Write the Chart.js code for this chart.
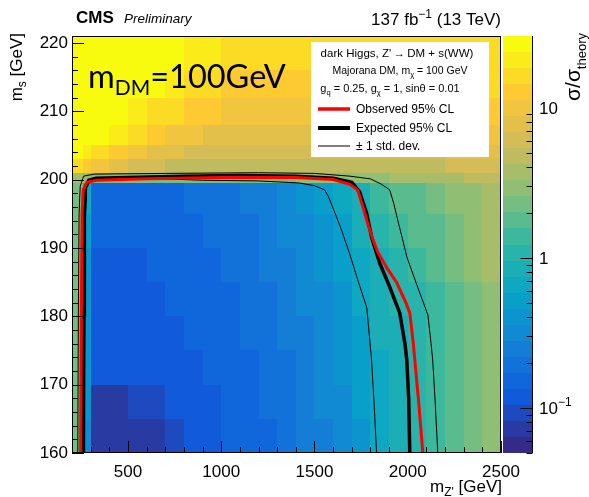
<!DOCTYPE html>
<html>
<head>
<meta charset="utf-8">
<script src="https://cdn.jsdelivr.net/npm/chart.js@4.4.0/dist/chart.umd.min.js"></script>
<style>
  html, body { margin: 0; padding: 0; background: #fff; }
  #wrap { width: 589px; height: 497px; }
</style>
</head>
<body>
<div id="wrap"><canvas id="limitChart" width="589" height="497"></canvas></div>
<script>
// m_Z' bin edges (GeV) and m_s bin edges (GeV) of the sigma/sigma_theory map
const mzpEdges = [200, 260, 300, 400, 500, 600, 700, 800, 900, 1000, 1100, 1200, 1300, 1400, 1500, 1600, 1700, 1800, 1900, 2000, 2100, 2200, 2300, 2400, 2500];
const msEdges = [160, 165, 170, 175, 180, 185, 190, 195, 199.5, 201, 203, 205, 208, 212, 216, 221];

// observed sigma/sigma_theory, one row per m_s bin (lowest first)
const sigmaRatio = [
  [2.2, 0.35, 0.068, 0.065, 0.068, 0.08, 0.1, 0.115, 0.125, 0.135, 0.15, 0.17, 0.19, 0.22, 0.27, 0.33, 0.45, 0.62, 0.82, 1.0, 1.3, 1.7, 2.2, 2.9],
  [2.2, 0.36, 0.072, 0.07, 0.085, 0.1, 0.115, 0.12, 0.13, 0.14, 0.155, 0.175, 0.2, 0.23, 0.28, 0.35, 0.47, 0.64, 0.84, 1.0, 1.3, 1.7, 2.2, 2.9],
  [2.2, 0.38, 0.11, 0.11, 0.115, 0.12, 0.125, 0.13, 0.14, 0.15, 0.165, 0.185, 0.21, 0.24, 0.3, 0.38, 0.5, 0.68, 0.88, 1.05, 1.35, 1.75, 2.3, 3.0],
  [2.2, 0.4, 0.12, 0.12, 0.12, 0.125, 0.13, 0.14, 0.15, 0.16, 0.175, 0.195, 0.22, 0.26, 0.32, 0.41, 0.55, 0.75, 0.95, 1.1, 1.4, 1.8, 2.4, 3.1],
  [2.3, 0.42, 0.125, 0.125, 0.125, 0.13, 0.14, 0.15, 0.16, 0.17, 0.185, 0.21, 0.24, 0.28, 0.35, 0.45, 0.62, 0.85, 1.0, 1.2, 1.5, 1.9, 2.5, 3.2],
  [2.3, 0.45, 0.13, 0.13, 0.13, 0.135, 0.145, 0.155, 0.17, 0.18, 0.2, 0.225, 0.26, 0.31, 0.39, 0.5, 0.7, 0.95, 1.15, 1.35, 1.65, 2.1, 2.7, 3.4],
  [2.4, 0.5, 0.135, 0.135, 0.135, 0.14, 0.15, 0.165, 0.18, 0.195, 0.215, 0.245, 0.28, 0.34, 0.43, 0.57, 0.8, 1.1, 1.35, 1.6, 1.9, 2.3, 2.9, 3.6],
  [2.5, 0.6, 0.14, 0.14, 0.145, 0.15, 0.16, 0.175, 0.195, 0.21, 0.235, 0.27, 0.31, 0.37, 0.48, 0.65, 0.9, 1.3, 1.6, 1.9, 2.2, 2.6, 3.2, 3.8],
  [4, 3, 2.5, 2.3, 2.2, 2.2, 2.2, 2.2, 2.2, 2.3, 2.3, 2.4, 2.5, 2.6, 2.7, 2.8, 3.0, 3.2, 3.4, 3.6, 3.8, 4.0, 4.3, 4.6],
  [18, 12, 9, 7, 6, 5.5, 5, 4.8, 4.6, 4.5, 4.5, 4.5, 4.5, 4.5, 4.5, 4.5, 4.6, 4.7, 4.8, 5, 5.2, 5.5, 5.8, 6.2],
  [25, 22, 17, 13, 10, 8, 7, 6.5, 6, 6, 6, 6, 6, 6, 6, 6, 6, 6.2, 6.4, 6.6, 6.8, 7, 7.3, 7.6],
  [28, 27, 25, 22, 16, 13, 11, 9.5, 8.5, 8, 8, 8, 8, 8, 8, 8, 8, 8.2, 8.4, 8.6, 8.8, 9, 9.3, 9.6],
  [29, 28, 27, 26, 23, 18, 15, 13, 12, 11, 11, 11, 11, 11, 11, 11, 11, 11, 11, 11.5, 11.5, 12, 12, 12.5],
  [30, 29, 28, 27, 26, 24, 20, 17, 15, 14, 14, 14, 14, 14, 14, 14, 14, 14, 14, 14, 14, 14.5, 15, 15],
  [30, 30, 29, 29, 28, 27, 25, 22, 19, 17, 16, 16, 16, 16, 16, 16, 16, 16, 16, 16, 16, 16, 16.5, 17]
];

// 95% CL contours as [m_Z', m_s] points
const observedCL = [[246,160],[250,180],[254,195],[260,198.5],[280,199.6],[330,199.9],[600,200.1],[1000,200.3],[1400,200.3],[1600,200.0],[1690,199.3],[1731,198.5],[1760,196],[1785,193.6],[1810,191.5],[1839,189.4],[1890,187],[1941,184.9],[1990,182],[2011,180.5],[2030,176],[2038,173.6],[2060,167],[2081,160]];
const expectedCL = [[258,160],[262,180],[266,195],[272,198.8],[290,199.9],[330,200.2],[500,200.3],[800,200.5],[1100,200.6],[1400,200.5],[1600,200.2],[1700,199.6],[1742,198.2],[1780,195],[1806,191.6],[1849,187.8],[1900,184.5],[1957,180.5],[1985,176],[1995,173.6],[2005,168],[2011,160]];
const expectedUp = [[231,160],[234,180],[238,195],[244,199],[262,200.5],[320,200.8],[700,200.9],[1200,201.0],[1500,200.9],[1688,200.5],[1800,200.1],[1860,199.3],[1903,198.5],[1925,196.5],[1946,194.1],[1970,191.5],[1995,188.7],[2050,184.5],[2108,180.2],[2125,176],[2134,173.6],[2148,167],[2161,160]];
const expectedDown = [[268,160],[270,180],[273,195],[278,198.8],[295,199.6],[350,200.0],[600,200.2],[900,199.9],[1200,199.8],[1419,199.5],[1500,199.1],[1554,198.5],[1575,197.5],[1597,196],[1640,193],[1688,189.2],[1730,185.5],[1780,181.3],[1795,177],[1806,173.6],[1820,167],[1833,160]];

// axis labels
const mzpTicks = [500, 1000, 1500, 2000, 2500];
const msTicks = [160, 170, 180, 190, 200, 210, 220];
const zTicks = [0.1, 1, 10];
const zRange = [0.05, 30];

// ROOT "bird" palette
const birdStops = [0, 0.125, 0.25, 0.375, 0.5, 0.625, 0.75, 0.875, 1];
const birdR = [0.2082, 0.0592, 0.0780, 0.0232, 0.1802, 0.5301, 0.8186, 0.9956, 0.9764];
const birdG = [0.1664, 0.3599, 0.5041, 0.6419, 0.7178, 0.7492, 0.7328, 0.7862, 0.9832];
const birdB = [0.5293, 0.8684, 0.8385, 0.7914, 0.6425, 0.4662, 0.3499, 0.1968, 0.0539];
const nBands = 26;

function birdAt(t) {
  let i = 0;
  while (i < birdStops.length - 2 && t > birdStops[i + 1]) i++;
  const f = (t - birdStops[i]) / (birdStops[i + 1] - birdStops[i]);
  const c = arr => Math.round(255 * (arr[i] + f * (arr[i + 1] - arr[i])));
  return 'rgb(' + c(birdR) + ',' + c(birdG) + ',' + c(birdB) + ')';
}

function bandOf(v) {
  const lo = Math.log(zRange[0]), hi = Math.log(zRange[1]);
  let t = (Math.log(v) - lo) / (hi - lo);
  t = Math.min(Math.max(t, 0), 0.9999);
  return Math.floor(t * nBands);
}

function colorFor(v) {
  return birdAt(bandOf(v) / (nBands - 1));
}

// text with sub/superscripts: parts = [[text, font, dy], ...]
function richWidth(ctx, parts) {
  let w = 0;
  parts.forEach(p => { ctx.font = p[1]; w += ctx.measureText(p[0]).width; });
  return w;
}
function drawRich(ctx, parts, x, y, align) {
  let w = richWidth(ctx, parts);
  let cx = align === 'right' ? x - w : align === 'center' ? x - w / 2 : x;
  ctx.textAlign = 'left';
  ctx.textBaseline = 'alphabetic';
  parts.forEach(p => {
    ctx.font = p[1];
    ctx.fillText(p[0], cx, y + (p[2] || 0));
    cx += ctx.measureText(p[0]).width;
  });
}

const heatMap = {
  id: 'heatMap',
  beforeDatasetsDraw(chart) {
    const ctx = chart.ctx, xs = chart.scales.x, ys = chart.scales.y, zs = chart.scales.z;
    const area = chart.chartArea;
    ctx.save();
    ctx.beginPath();
    ctx.rect(area.left, area.top, area.right - area.left, area.bottom - area.top);
    ctx.clip();
    for (let r = 0; r < sigmaRatio.length; r++) {
      const y0 = Math.round(ys.getPixelForValue(msEdges[r + 1]));
      const y1 = Math.round(ys.getPixelForValue(msEdges[r]));
      for (let c = 0; c < sigmaRatio[r].length; c++) {
        const x0 = Math.round(xs.getPixelForValue(mzpEdges[c]));
        const x1 = Math.round(xs.getPixelForValue(mzpEdges[c + 1]));
        ctx.fillStyle = colorFor(sigmaRatio[r][c]);
        ctx.fillRect(x0, y0, x1 - x0, y1 - y0);
      }
    }
    ctx.restore();

    // colour bar
    const bl = zs.left + 2, br = zs.left + 31;
    const lo = Math.log(zRange[0]), hi = Math.log(zRange[1]);
    for (let b = 0; b < nBands; b++) {
      const v0 = Math.exp(lo + (hi - lo) * b / nBands);
      const v1 = Math.exp(lo + (hi - lo) * (b + 1) / nBands);
      const y0 = Math.round(zs.getPixelForValue(v1));
      const y1 = Math.round(zs.getPixelForValue(v0));
      ctx.fillStyle = birdAt(b / (nBands - 1));
      ctx.fillRect(bl, y0, br - bl, y1 - y0);
    }
  },
  afterDatasetsDraw(chart) {
    const ctx = chart.ctx, xs = chart.scales.x, ys = chart.scales.y, zs = chart.scales.z;
    const a = chart.chartArea;
    ctx.save();
    ctx.strokeStyle = '#000';
    ctx.lineWidth = 1;
    ctx.strokeRect(a.left + 0.5, a.top + 0.5, a.right - a.left - 1, a.bottom - a.top - 1);
    ctx.beginPath();
    // x ticks, inward
    for (let v = 200; v <= 2500; v += 100) {
      const px = Math.round(xs.getPixelForValue(v)) + 0.5;
      const len = v % 500 === 0 ? 12 : 6;
      ctx.moveTo(px, a.bottom);
      ctx.lineTo(px, a.bottom - len);
    }
    // y ticks, inward
    for (let v = 160; v <= 221; v += 2) {
      const py = Math.round(ys.getPixelForValue(v)) + 0.5;
      const len = v % 10 === 0 ? 12 : 6;
      ctx.moveTo(a.left, py);
      ctx.lineTo(a.left + len, py);
    }
    // colour bar axis
    const bx = zs.left + 31.5;
    ctx.moveTo(bx, a.top);
    ctx.lineTo(bx, a.bottom);
    [1, 10, 100].forEach(dec => {
      for (let m = 1; m < 10; m++) {
        const v = m * dec / 100;
        if (v < zRange[0] || v > zRange[1]) continue;
        const py = Math.round(zs.getPixelForValue(v)) + 0.5;
        const len = m === 1 ? 12 : 6;
        ctx.moveTo(bx, py);
        ctx.lineTo(bx - len, py);
      }
    });
    ctx.stroke();
    ctx.restore();
  },
  afterDraw(chart) {
    const ctx = chart.ctx, zs = chart.scales.z;
    ctx.save();
    ctx.fillStyle = '#000';
    const lab = '17px "Liberation Sans", Arial, sans-serif';
    const sub = '12px "Liberation Sans", Arial, sans-serif';

    // colour bar labels
    zTicks.forEach(v => {
      const py = zs.getPixelForValue(v) + 6;
      if (v < 1) drawRich(ctx, [['10', lab, 0], ['\u22121', sub, -8]], 539, py, 'left');
      else drawRich(ctx, [[String(v), lab, 0]], 539, py, 'left');
    });

    // header
    drawRich(ctx, [['CMS', 'bold 17px "Liberation Sans", Arial, sans-serif', 0]], 76, 23, 'left');
    drawRich(ctx, [['Preliminary', 'italic 13.5px "Liberation Sans", Arial, sans-serif', 0]], 124, 23, 'left');
    drawRich(ctx, [['137 fb', lab, 0], ['\u22121', sub, -7], [' (13 TeV)', lab, 0]], 501, 25, 'right');

    // x title
    drawRich(ctx, [['m', lab, 0], ["Z'", sub, 4], [' [GeV]', lab, 0]], 502, 492, 'right');

    // y title, rotated
    ctx.save();
    ctx.translate(22, 33);
    ctx.rotate(-Math.PI / 2);
    drawRich(ctx, [['m', lab, 0], ['s', sub, 4], [' [GeV]', lab, 0]], 0, 0, 'right');
    ctx.restore();

    // colour bar title
    ctx.save();
    ctx.translate(580, 33);
    ctx.rotate(-Math.PI / 2);
    drawRich(ctx, [['\u03c3/\u03c3', '21px "Liberation Sans", Arial, sans-serif', 0], ['theory', '13px "Liberation Sans", Arial, sans-serif', 6]], 0, 0, 'right');
    ctx.restore();

    // dark matter mass label
    drawRich(ctx, [['m', '32.5px Lato, "Open Sans", sans-serif', 0], ['DM', '21px Lato, "Open Sans", sans-serif', 7], ['=100GeV', '32.5px Lato, "Open Sans", sans-serif', 0]], 88, 88, 'left');

    // legend box
    ctx.fillStyle = '#fff';
    ctx.fillRect(311, 42, 178, 115);
    ctx.fillStyle = '#000';
    const f11 = '11px "Liberation Sans", Arial, sans-serif';
    const f8 = '7.5px "Liberation Sans", Arial, sans-serif';
    drawRich(ctx, [["dark Higgs, Z'\u2009\u2192\u2009DM + s(WW)", '11.5px "Liberation Sans", Arial, sans-serif', 0]], 397, 57, 'center');
    drawRich(ctx, [['Majorana DM, m', '10.5px "Liberation Sans", Arial, sans-serif', 0], ['\u03c7', f8, 3], [' = 100 GeV', '10.5px "Liberation Sans", Arial, sans-serif', 0]], 400, 74, 'center');
    drawRich(ctx, [['g', f11, 0], ['q', f8, 3], [' = 0.25, g', f11, 0], ['\u03c7', f8, 3], [' = 1, sin\u03b8 = 0.01', f11, 0]], 390, 92, 'center');

    const entries = [['Observed 95% CL', '#ff0000', 3.5, 113], ['Expected 95% CL', '#000', 4, 132], ['\u00b1 1 std. dev.', '#000', 1, 150]];
    entries.forEach(e => {
      ctx.strokeStyle = e[1];
      ctx.lineWidth = e[2];
      ctx.beginPath();
      ctx.moveTo(318, e[3] - 4);
      ctx.lineTo(350, e[3] - 4);
      ctx.stroke();
      drawRich(ctx, [[e[0], '12px "Liberation Sans", Arial, sans-serif', 0]], 356, e[3], 'left');
    });
    ctx.restore();
  }
};

function contourSet(points, color, width) {
  return {
    data: points.map(p => ({ x: p[0], y: p[1] })),
    showLine: true,
    borderColor: color,
    borderWidth: width,
    pointRadius: 0,
    tension: 0,
    fill: false
  };
}

const tickFont = { family: '"Liberation Sans", Arial, sans-serif', size: 17 };

new Chart(document.getElementById('limitChart'), {
  type: 'scatter',
  data: {
    datasets: [
      contourSet(observedCL, '#ff0000', 3),
      contourSet(expectedCL, '#000000', 3.5),
      contourSet(expectedUp, '#000000', 1),
      contourSet(expectedDown, '#000000', 1)
    ]
  },
  options: {
    responsive: false,
    animation: false,
    devicePixelRatio: 1,
    layout: { padding: { top: 36, right: 0, left: 0, bottom: 0 } },
    plugins: { legend: { display: false }, tooltip: { enabled: false } },
    scales: {
      x: {
        type: 'linear', min: 200, max: 2500,
        grid: { display: false, drawTicks: false },
        border: { display: false },
        ticks: { font: tickFont, color: '#000', padding: 9, maxRotation: 0, callback: v => String(v) },
        afterBuildTicks: s => { s.ticks = mzpTicks.map(v => ({ value: v })); },
        afterFit: s => { s.height = 44; }
      },
      y: {
        type: 'linear', min: 160, max: 221,
        grid: { display: false, drawTicks: false },
        border: { display: false },
        ticks: { font: tickFont, color: '#000', padding: 4, callback: v => String(v) },
        afterBuildTicks: s => { s.ticks = msTicks.map(v => ({ value: v })); },
        afterFit: s => { s.width = 72; }
      },
      z: {
        type: 'logarithmic', position: 'right', min: zRange[0], max: zRange[1],
        grid: { display: false, drawTicks: false },
        border: { display: false },
        ticks: { display: false },
        afterFit: s => { s.width = 88; }
      }
    }
  },
  plugins: [heatMap]
});
</script>
</body>
</html>
